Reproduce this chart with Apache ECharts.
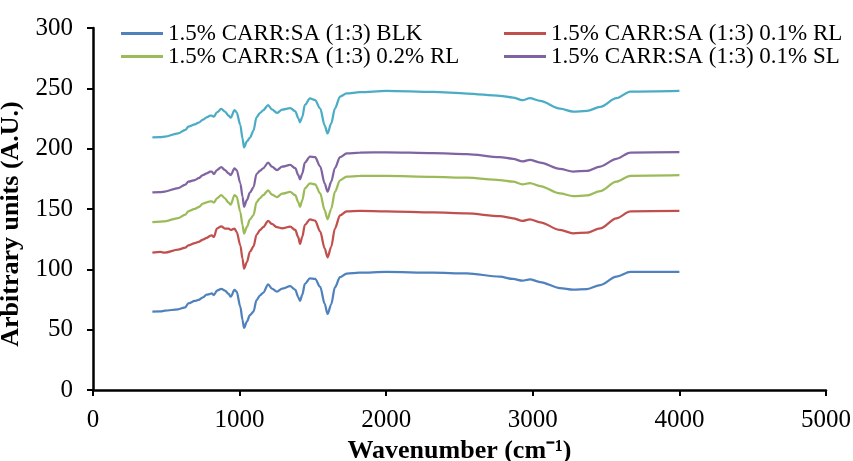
<!DOCTYPE html>
<html>
<head>
<meta charset="utf-8">
<script src="https://cdn.jsdelivr.net/npm/echarts@6/dist/echarts.min.js"></script>
<style>
  html, body { margin: 0; padding: 0; background: #fff; }
  #chart { width: 853px; height: 461px; }
</style>
</head>
<body>
<div id="chart"></div>
<script>
// FTIR spectra, offset vertically for readability
const wavenumber = [405, 460, 490, 580, 630, 650, 695, 720, 750, 775, 800, 810, 825, 845, 875, 900, 925, 940, 965, 980,
  1005, 1020, 1030, 1050, 1070, 1095, 1115, 1140, 1160, 1195, 1220, 1255, 1290, 1345, 1380, 1400, 1412, 1428, 1445, 1480,
  1515, 1550, 1580, 1600, 1625, 1650, 1685, 1730, 1820, 2000, 2320, 2550, 2775, 2865, 2930, 2980, 3050, 3185, 3275, 3370,
  3460, 3570, 3665, 4000];

const blk = [64.9, 65.2, 65.7, 66.9, 68.5, 71.8, 73.8, 74.6, 76.8, 79.0, 79.6, 80.1, 78.7, 82.3, 83.9, 82.3, 79.6, 77.3, 82.9, 81.5,
  69.0, 58.0, 51.5, 56.6, 62.0, 65.0, 74.5, 78.5, 80.5, 87.5, 84.0, 81.5, 84.0, 86.0, 83.0, 77.0, 73.8, 79.0, 88.0, 92.5,
  92.0, 85.5, 71.5, 63.0, 71.0, 85.0, 93.5, 96.5, 97.2, 97.8, 97.2, 96.7, 93.9, 92.0, 90.6, 91.7, 89.5, 84.5, 83.1, 83.7,
  87.0, 93.9, 97.8, 97.8];

const rl01 = [113.8, 114.4, 113.8, 116.3, 118.0, 119.9, 121.8, 122.8, 124.6, 126.0, 127.8, 128.2, 126.8, 133.8, 135.7, 133.8, 133.8, 132.6, 133.8, 131.0,
  119.9, 108.8, 100.5, 106.0, 114.4, 119.0, 128.5, 132.6, 134.9, 140.1, 137.6, 134.9, 134.0, 135.4, 132.6, 126.6, 121.0, 127.1, 136.8, 141.5,
  140.3, 131.2, 117.4, 109.9, 118.6, 133.8, 144.8, 148.1, 148.4, 148.1, 147.1, 146.3, 144.1, 142.3, 140.1, 141.5, 139.0, 132.6, 129.9, 130.4,
  134.0, 142.3, 148.1, 148.4];

const rl02 = [139.2, 139.5, 139.8, 142.5, 145.3, 148.1, 150.2, 151.5, 154.4, 155.5, 156.4, 156.4, 155.2, 158.8, 161.6, 158.8, 155.2, 153.6, 161.6, 160.2,
  147.5, 136.5, 129.6, 135.1, 141.3, 145.0, 155.5, 159.1, 161.4, 165.5, 161.9, 159.9, 162.7, 164.1, 161.4, 155.8, 151.7, 157.3, 167.0, 171.2,
  170.4, 162.9, 149.0, 141.5, 150.2, 164.1, 173.8, 176.8, 177.4, 177.5, 176.7, 175.9, 174.0, 172.6, 170.4, 171.5, 169.0, 162.9, 160.7, 161.2,
  164.8, 172.6, 177.5, 178.0];

const sl01 = [163.7, 164.0, 164.5, 167.3, 170.1, 172.6, 174.0, 175.5, 178.1, 179.5, 180.9, 180.9, 179.0, 182.3, 184.6, 182.3, 179.5, 178.1, 183.7, 182.3,
  171.3, 160.2, 151.9, 157.5, 163.5, 168.0, 179.0, 181.8, 183.7, 188.4, 185.1, 182.3, 185.1, 186.5, 183.8, 178.2, 174.6, 179.6, 188.4, 193.4,
  192.9, 185.1, 171.3, 164.3, 172.6, 183.9, 193.0, 196.0, 196.8, 197.0, 196.3, 195.5, 193.0, 191.6, 189.4, 190.8, 188.5, 183.3, 181.0, 181.6,
  185.2, 191.6, 196.8, 197.1];

const series5 = [209.4, 209.6, 209.9, 212.7, 215.5, 218.2, 220.2, 221.5, 224.0, 226.0, 227.3, 227.3, 226.5, 230.1, 232.9, 230.6, 227.3, 225.7, 232.0, 230.1,
  219.5, 208.5, 201.0, 206.0, 209.0, 215.0, 226.0, 229.6, 231.8, 236.0, 232.6, 229.6, 232.3, 233.7, 231.0, 225.4, 221.8, 226.5, 236.2, 241.6,
  240.2, 233.2, 219.4, 212.6, 220.9, 233.2, 243.1, 245.8, 246.8, 247.9, 247.0, 245.7, 243.8, 242.4, 240.2, 241.8, 239.6, 233.2, 230.7, 231.3,
  234.6, 241.8, 247.3, 247.9];

const seriesNames = [
  '1.5% CARR:SA (1:3) BLK',
  '1.5% CARR:SA (1:3) 0.1% RL',
  '1.5% CARR:SA (1:3) 0.2% RL',
  '1.5% CARR:SA (1:3) 0.1% SL',
  'Series5'
];
const seriesValues = [blk, rl01, rl02, sl01, series5];
const seriesColors = ['#4F81BD', '#C0504D', '#9BBB59', '#8064A2', '#4BACC6'];

const xTicks = { min: 0, max: 5000, interval: 1000 };
const yTicks = { min: 0, max: 300, interval: 50 };

const FONT = '"Liberation Serif", "Times New Roman", serif';

function pairs(values) {
  return wavenumber.map((w, i) => [w, values[i]]);
}

const chart = echarts.init(document.getElementById('chart'), null, { renderer: 'canvas' });

// one legend block per entry so the two columns line up
const legendSpots = [
  { left: 121, top: 22 },
  { left: 504, top: 22 },
  { left: 121, top: 45 },
  { left: 504, top: 45 }
];
const legends = legendSpots.map((spot, i) => ({
  show: true,
  left: spot.left,
  top: spot.top,
  padding: 0,
  orient: 'horizontal',
  data: [seriesNames[i]],
  icon: 'rect',
  itemWidth: 42,
  itemHeight: 3,
  selectedMode: false,
  textStyle: { fontFamily: FONT, fontSize: 23, color: '#000' }
}));

const option = {
  animation: false,
  backgroundColor: '#fff',
  legend: legends,
  grid: { left: 93, right: 27, top: 28, bottom: 71, containLabel: false, outerBoundsMode: 'none' },
  xAxis: {
    type: 'value',
    min: xTicks.min, max: xTicks.max, interval: xTicks.interval,
    name: 'Wavenumber (cm\u207B\u00B9)',
    nameLocation: 'middle',
    nameGap: 43,
    nameTextStyle: { fontFamily: FONT, fontSize: 26, fontWeight: 'bold', color: '#000' },
    axisLine: { show: true, lineStyle: { color: '#000', width: 2.5 } },
    axisTick: { show: true, inside: false, length: 6, lineStyle: { color: '#000', width: 2 } },
    axisLabel: { margin: 18, fontFamily: FONT, fontSize: 25, color: '#000', formatter: v => String(v) },
    splitLine: { show: false }
  },
  yAxis: {
    type: 'value',
    min: yTicks.min, max: yTicks.max, interval: yTicks.interval,
    name: 'Arbitrary units (A.U.)',
    nameLocation: 'middle',
    nameGap: 58,
    nameRotate: 90,
    nameTextStyle: { fontFamily: FONT, fontSize: 26, fontWeight: 'bold', color: '#000', padding: [0, 30, 0, 0] },
    axisLine: { show: true, lineStyle: { color: '#000', width: 2.5 } },
    axisTick: { show: true, inside: false, length: 6, lineStyle: { color: '#000', width: 2 } },
    axisLabel: { margin: 20, fontFamily: FONT, fontSize: 25, color: '#000', formatter: v => String(v) },
    splitLine: { show: false }
  },
  series: seriesValues.map((vals, i) => ({
    name: seriesNames[i],
    type: 'line',
    data: pairs(vals),
    showSymbol: false,
    smooth: 0.3,
    smoothMonotone: 'x',
    lineStyle: { color: seriesColors[i], width: 2.25 },
    itemStyle: { color: seriesColors[i] },
    z: 2
  }))
};

chart.setOption(option);
</script>
</body>
</html>
